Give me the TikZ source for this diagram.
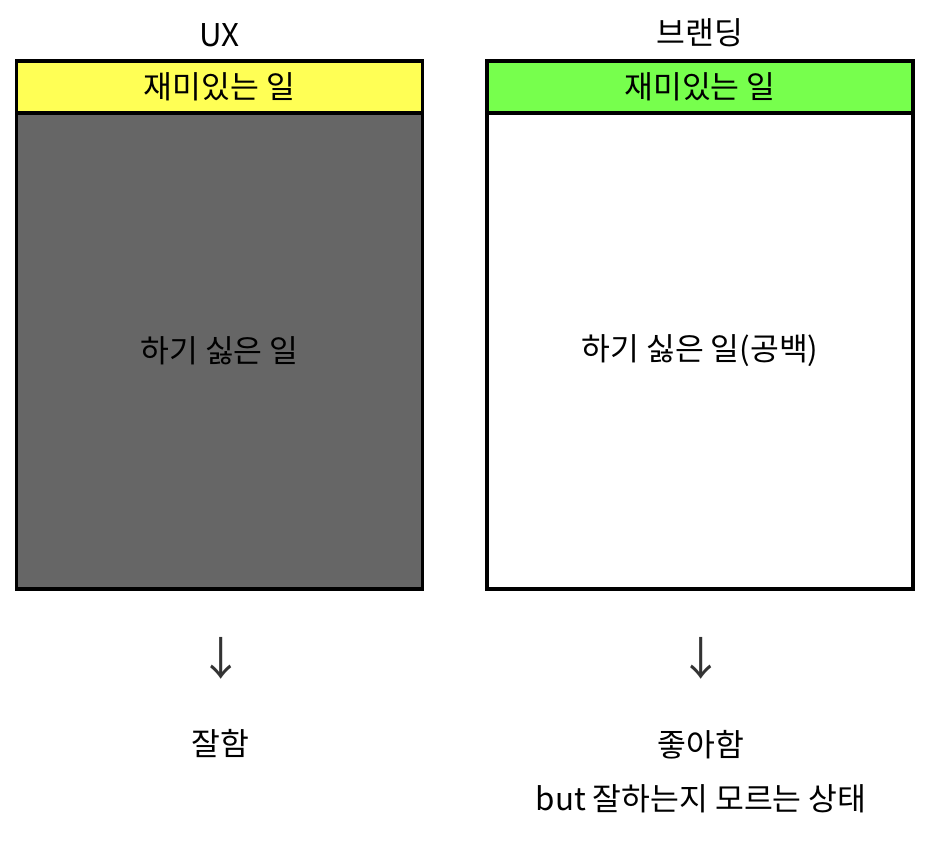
\documentclass[tikz,border=0pt]{standalone}
\usepackage{fontspec}
\setmainfont{Noto Sans CJK KR}
\usetikzlibrary{positioning}
\definecolor{funyellow}{HTML}{FFFF55}
\definecolor{fungreen}{HTML}{77FF4D}
\definecolor{chiregray}{HTML}{666666}
\definecolor{arrowgray}{HTML}{333333}

\begin{document}
\begin{tikzpicture}[x=0.75pt, y=-0.75pt,
    head/.style={rectangle, draw=black, line width=2.3pt, outer sep=0pt, minimum height=39pt, align=center, font=\fontsize{23.5}{28}\selectfont},
    body/.style={rectangle, draw=black, line width=2.3pt, outer sep=0pt, minimum height=357pt, align=center, font=\fontsize{23.5}{28}\selectfont},
    title/.style={inner sep=0pt, font=\fontsize{23.5}{28}\selectfont},
    txt/.style={align=center, inner sep=0pt, font=\fontsize{23.5}{41}\selectfont},
    down/.style={inner sep=0pt, text=arrowgray, font=\fontsize{34}{36}\selectfont}]
\useasboundingbox (0,0) rectangle (930,852);
% UX
\node[head, fill=funyellow, minimum width=305pt] (uxhead) at (219.5,87) {재미있는 일};
\node[body, fill=chiregray, minimum width=305pt, below=0pt of uxhead] (uxbody) {하기 싫은 일};
\node[title, above=10pt of uxhead] (uxtitle) {UX};
\node[down] (uxdown) at (221,658) {↓};
\node[txt] (uxres) at (220,744) {잘함};
% 브랜딩
\node[head, fill=fungreen, minimum width=319.5pt] (brhead) at (700,87) {재미있는 일};
\node[body, fill=white, minimum width=319.5pt, below=0pt of brhead] (brbody) {하기 싫은 일(공백)};
\node[title, above=10pt of brhead] (brtitle) {브랜딩};
\node[down] (brdown) at (701,658) {↓};
\node[txt] (brres) at (701,771.5) {좋아함\\but 잘하는지 모르는 상태};
\end{tikzpicture}
\end{document}
